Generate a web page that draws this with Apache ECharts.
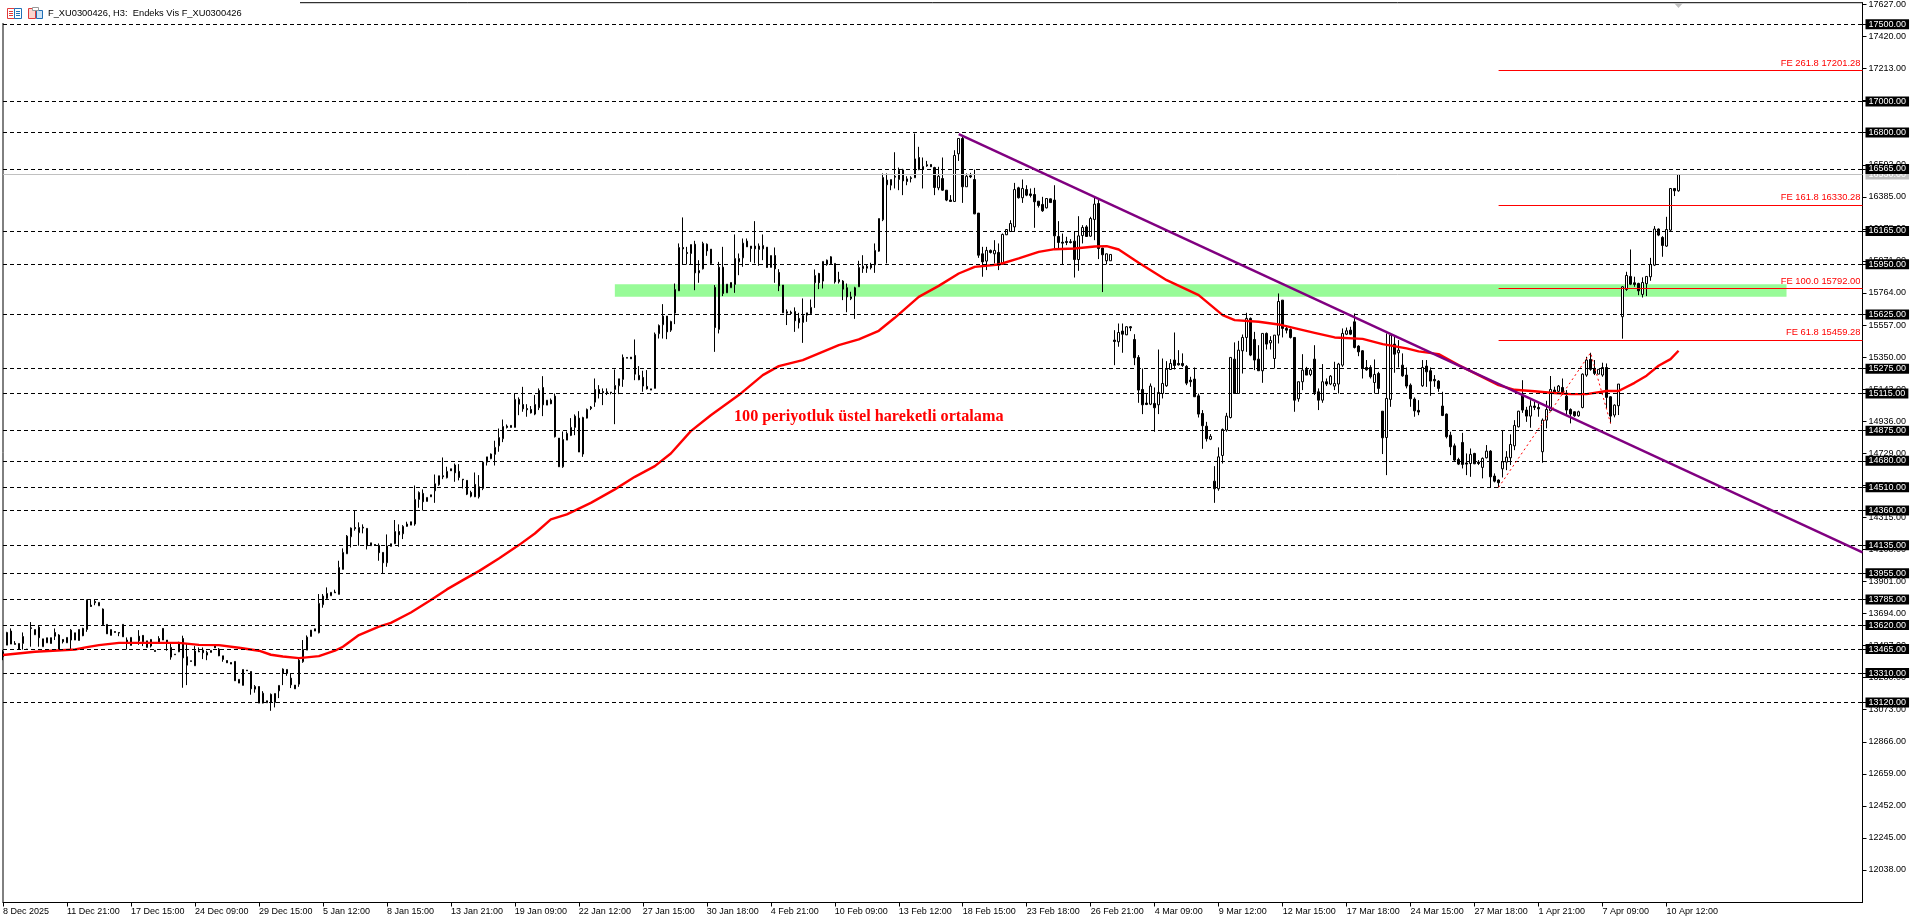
<!DOCTYPE html>
<html>
<head>
<meta charset="utf-8">
<title>F_XU0300426 H3</title>
<style>html,body{margin:0;padding:0;background:#fff}#c{width:1920px;height:923px}</style>
<script src="https://cdn.jsdelivr.net/npm/echarts@6/dist/echarts.min.js"></script>
</head>
<body>
<div id="c"></div>
<script>
// Date labels, one every 16 bars
const tickLabels = ["8 Dec 2025","11 Dec 21:00","17 Dec 15:00","24 Dec 09:00","29 Dec 15:00","5 Jan 12:00","8 Jan 15:00","13 Jan 21:00","19 Jan 09:00","22 Jan 12:00","27 Jan 15:00","30 Jan 18:00","4 Feb 21:00","10 Feb 09:00","13 Feb 12:00","18 Feb 15:00","23 Feb 18:00","26 Feb 21:00","4 Mar 09:00","9 Mar 12:00","12 Mar 15:00","17 Mar 18:00","24 Mar 15:00","27 Mar 18:00","1 Apr 21:00","7 Apr 09:00","10 Apr 12:00"];
const priceTicks = [17627,17420,17213,17006,16799,16592,16385,16178,15971,15764,15557,15350,15143,14936,14729,14522,14315,14108,13901,13694,13487,13280,13073,12866,12659,12452,12245,12038];
const levels = [17500,17000,16800,16565,16165,15950,15625,15275,15115,14875,14680,14510,14360,14135,13955,13785,13620,13465,13310,13120];
const fibo = [["FE 261.8 17201.28",17201.28],["FE 161.8 16330.28",16330.28],["FE 100.0 15792.00",15792],["FE 61.8 15459.28",15459.28]];
const lastPrice = 16530;
// Each candle is [open, close, low, high]
const candlesDec = [
[13447,13415,13393,13458],[13490,13572,13490,13576],[13581,13497,13497,13598],[13501,13495,13495,13516],[13464,13501,13462,13501],[13501,13546,13462,13572],[13462,13464,13460,13466],[13602,13598,13480,13639],[13557,13591,13557,13591],[13606,13538,13480,13615],
[13480,13531,13480,13531],[13505,13538,13505,13538],[13538,13501,13501,13538],[13572,13548,13523,13598],[13555,13462,13458,13561],[13527,13512,13501,13527],[13505,13540,13505,13540],[13587,13523,13462,13594],[13523,13570,13523,13570],[13520,13591,13520,13591],
[13598,13551,13548,13602],[13591,13781,13576,13785],[13748,13740,13738,13781],[13772,13764,13748,13787],[13744,13766,13744,13766],[13723,13622,13619,13727],[13624,13563,13563,13624],[13553,13591,13553,13591],[13578,13572,13572,13578],[13572,13568,13548,13572],
[13624,13544,13544,13624],[13523,13507,13462,13540],[13488,13540,13488,13540],[13505,13507,13503,13510],[13548,13518,13492,13587],[13553,13512,13484,13555],[13475,13518,13475,13518],[13484,13527,13475,13529],[13456,13449,13449,13456],[13533,13507,13501,13548],
[13598,13523,13523,13598],[13523,13501,13454,13523],[13475,13413,13396,13501],[13432,13428,13428,13432],[13447,13501,13445,13512],[13533,13408,13215,13551],[13415,13361,13232,13501],[13389,13385,13385,13389],[13357,13452,13357,13484],[13452,13447,13445,13475],
[13458,13441,13400,13475],[13426,13443,13393,13454],[13443,13456,13443,13456],[13484,13473,13473,13484],[13464,13421,13419,13471],[13421,13398,13383,13421],[13391,13376,13376,13391],[13378,13368,13368,13378],[13385,13260,13260,13385],[13269,13245,13245,13269],
[13230,13333,13230,13333],[13329,13325,13325,13329],[13320,13208,13170,13320],[13206,13223,13183,13232],[13223,13116,13116,13223],[13116,13180,13114,13193],[13118,13131,13118,13131],[13172,13120,13066,13178],[13120,13178,13088,13178],[13195,13230,13148,13230],
[13335,13307,13232,13340],[13307,13333,13292,13333]];
const candlesJan = [
[13277,13234,13213,13307],[13232,13208,13208,13232],[13238,13393,13221,13402],[13383,13462,13376,13523],[13458,13542,13458,13553],[13546,13587,13546,13587],[13581,13596,13581,13596],[13570,13760,13566,13820],
[13751,13807,13732,13820],[13792,13824,13785,13863],[13809,13831,13809,13831],[13833,13828,13828,13848],[13818,13992,13818,14035],[13979,14089,13979,14115],[14080,14194,14080,14201],[14190,14246,14121,14250],[14250,14242,14229,14358],[14216,14250,14132,14283],
[14252,14246,14212,14270],[14244,14132,14108,14244],[14132,14151,14132,14151],[14140,14136,14136,14140],[14134,14087,14035,14147],[14089,14022,13953,14089],[14022,14130,13996,14205],[14128,14145,14128,14145],[14145,14224,14143,14298],[14224,14203,14125,14270],
[14209,14257,14175,14265],[14257,14272,14255,14287],[14265,14287,14265,14287],[14272,14431,14261,14521],[14431,14476,14377,14483],[14470,14416,14360,14496],[14418,14444,14418,14444],[14448,14461,14448,14461],[14487,14532,14409,14592],[14526,14584,14519,14584],
[14584,14577,14562,14702],[14571,14612,14567,14642],[14629,14616,14616,14629],[14653,14603,14545,14663],[14612,14573,14554,14659],[14562,14558,14502,14562],[14554,14465,14459,14554],[14476,14452,14444,14487],[14528,14448,14446,14605],[14448,14513,14437,14588],
[14502,14672,14491,14674],[14672,14706,14650,14706],[14694,14724,14691,14728],[14722,14767,14650,14810],[14777,14831,14739,14889],[14823,14902,14801,14947],[14904,14896,14889,14915],[14909,14896,14896,14909],[14896,15077,14896,15115],[15077,15046,14975,15090],
[15044,15016,14997,15158],[15018,15010,14965,15046],[15012,14990,14986,15034],[14982,15044,14975,15105],[15023,15135,15008,15148],[15154,15042,14969,15227],[15040,15072,15040,15072],[15072,15049,15046,15083],[15098,14836,14831,15115],[14827,14642,14642,14827],
[14642,14818,14635,14870],[14814,14857,14814,14870],[14844,14896,14840,14956],[14896,14969,14846,14980],[14956,14737,14737,15001],[14724,14960,14706,14965],[14956,15012,14954,15018],[15027,15018,15008,15034],[15059,15141,15029,15212],[15141,15115,15083,15169],
[15128,15120,15040,15148],[15126,15120,15105,15148],[15124,15120,15110,15124],[15141,15167,14917,15270],[15165,15210,15111,15210],[15206,15348,15158,15367],[15348,15343,15343,15348],[15350,15339,15339,15350],[15361,15240,15201,15464],[15232,15204,15201,15292],
[15219,15163,15126,15262],[15161,15145,15141,15266],[15145,15137,15137,15145],[15148,15498,15148,15509],[15501,15554,15470,15561],[15559,15615,15470,15692],[15615,15513,15466,15615],[15524,15580,15513,15585],[15634,15787,15563,15825],[15778,16058,15778,16084],
[16058,16049,15948,16252],[16026,16019,15948,16062],[16019,16077,15948,16077],[16079,15894,15782,16101],[15894,15909,15830,15976],[15920,16084,15916,16095],[16079,16036,16004,16084],[16047,15955,15950,16047],[15800,15541,15384,15815],[15529,15931,15503,15965],
[15931,15761,15744,16062],[15765,15821,15765,15821],[15798,15832,15798,15832],[15819,15987,15765,16142]];
const candlesFeb = [
[15965,15987,15879,16019],[15991,16086,15933,16116],[16099,16062,16062,16116],[16067,16051,15965,16067],[16067,16049,15955,16228],[16045,16067,15940,16084],[16049,16071,15976,16142],[16060,15929,15927,16060],[15929,16006,15929,16006],[16006,15920,15830,16058],
[15897,15810,15776,15918],[15815,15636,15636,15815],[15643,15634,15557,15658],[15640,15632,15625,15650],[15645,15585,15513,15671],[15600,15572,15535,15636],[15574,15619,15442,15729],[15621,15636,15578,15636],[15630,15671,15628,15722],[15830,15877,15668,15916],
[15890,15830,15789,15894],[15841,15968,15793,15968],[15948,15976,15940,15980],[15952,15998,15950,16002],[15955,15836,15825,15955],[15836,15851,15825,15901],[15841,15789,15718,15847],[15798,15739,15640,15825],[15727,15739,15718,15772],[15746,15798,15597,15804],
[15804,15929,15804,15972],[15922,15937,15894,16008],[15924,15937,15894,15950],[15944,15927,15916,15959],[15946,16039,15894,16084],[16034,16245,16030,16245],[16237,16510,16228,16536],[16493,16463,15955,16536],[16460,16497,16428,16497],[16518,16512,16439,16673],
[16497,16557,16428,16574],[16559,16488,16396,16566],[16484,16501,16460,16518],[16508,16503,16478,16518],[16508,16630,16508,16794],[16639,16561,16557,16708],[16564,16581,16439,16639],[16592,16585,16579,16617],[16594,16579,16579,16594],[16574,16445,16396,16579],
[16443,16518,16428,16579],[16503,16428,16424,16639],[16428,16364,16357,16428],[16364,16355,16353,16396],[16355,16652,16355,16686],[16663,16762,16617,16762],[16762,16450,16346,16783],[16450,16518,16450,16536],[16521,16514,16506,16540],[16497,16275,16273,16561],
[16280,16008,15991,16280],[16017,15965,15869,16062],[15970,16039,15912,16062],[16039,16026,16019,16045],[16017,16039,15955,16105],[16026,15944,15912,16084],[15948,16142,15948,16148],[16140,16174,16138,16174],[16161,16213,16159,16234],[16191,16432,16159,16475],
[16443,16379,16374,16450],[16379,16439,16346,16497],[16432,16396,16389,16460],[16404,16394,16381,16439],[16400,16353,16185,16443],[16357,16329,16316,16357],[16336,16295,16288,16385],[16314,16374,16310,16374],[16372,16348,16348,16374],[16364,16133,16045,16460],
[16129,16090,16051,16228],[16092,16086,15950,16148],[16097,16090,16073,16127],[16095,16090,16084,16112],[16099,15980,15864,16159],[15980,16133,15907,16260],[16135,16187,16084,16202],[16191,16129,16127,16202],[16131,16245,16127,16256],[16239,16338,16105,16381],
[16342,16051,15983,16368],[16054,16011,15770,16056],[15972,16017,15948,16019],[15972,16013,15972,16013],[15460,15451,15298,15524],[15449,15509,15417,15567]];
const candlesMar = [
[15518,15498,15378,15567],[15494,15546,15492,15550],[15546,15539,15518,15550],[15464,15346,15298,15498],[15348,15137,15055,15363],[15141,15042,14982,15277],[15053,15044,15040,15111],[15046,15163,15040,15180],[15051,15023,14868,15154],[15042,15122,14982,15399],
[15115,15180,15083,15341],[15165,15272,15158,15324],[15270,15309,15270,15337],[15331,15296,15270,15509],[15309,15300,15296,15395],[15309,15296,15287,15374],[15290,15182,15169,15298],[15201,15191,15158,15223],[15208,15094,15094,15283],[15100,14982,14960,15115],
[14986,14907,14758,15008],[14904,14823,14805,14932],[14820,14838,14814,14853],[14549,14500,14409,14646],[14500,14706,14487,14767],[14715,14883,14663,14889],[14879,14969,14868,14990],[14960,15348,14954,15348],[15337,15115,15115,15445],[15115,15395,15115,15455],
[15391,15477,15244,15496],[15477,15600,15384,15636],[15600,15363,15356,15606],[15464,15331,15266,15513],[15337,15262,15262,15427],[15262,15503,15184,15503],[15503,15434,15399,15509],[15442,15457,15399,15485],[15341,15492,15277,15492],[15492,15709,15438,15761],
[15718,15535,15477,15718],[15535,15524,15503,15556],[15529,15477,15470,15535],[15477,15072,14997,15477],[15081,15191,15062,15191],[15191,15266,15137,15369],[15270,15234,15234,15287],[15238,15266,15227,15279],[15337,15122,15105,15427],[15126,15072,15008,15148],
[15072,15191,15055,15305],[15191,15176,15163,15212],[15176,15227,15169,15234],[15163,15180,15137,15320],[15176,15305,15115,15313],[15298,15503,15287,15535],[15498,15520,15492,15541],[15524,15498,15492,15546],[15578,15412,15406,15632],[15421,15384,15356,15427],
[15391,15277,15212,15395],[15283,15268,15262,15331],[15283,15223,15212,15298],[15186,15238,15115,15335],[15244,15148,15115,15255],[15001,14829,14724,15001],[14831,15083,14588,15503],[15077,15492,15029,15492],[15434,15369,15249,15492],[15378,15395,15283,15460],
[15298,15229,15223,15374],[15234,15163,15148,15283],[15169,15081,15029,15180],[15079,15003,14965,15090],[15006,14995,14975,15072],[15165,15283,15158,15331],[15292,15255,15158,15331],[15262,15195,15100,15283],[15206,15197,15158,15234],[15195,15148,15126,15201],
[15034,14973,14969,15126],[14982,14836,14825,14986],[14846,14771,14717,14868],[14777,14685,14674,14792],[14689,14659,14653,14700],[14799,14657,14631,14861],[14666,14659,14588,14728],[14663,14722,14577,14760],[14728,14661,14659,14732],[14672,14663,14653,14685],
[14638,14696,14567,14702],[14700,14743,14696,14782],[14743,14577,14508,14749],[14582,14549,14541,14599],[14556,14539,14508,14560],[14629,14674,14573,14879]];
const candlesApr = [
[14672,14704,14620,14743],[14700,14786,14653,14851],[14777,14909,14749,14943],[14900,15001,14896,15003],[15105,15008,14990,15201],[15008,14969,14932,15029],[14969,15034,14894,15072],[15034,15025,15008,15062],[15025,15016,14965,15051],
[14739,14943,14668,14954],[14943,15012,14890,15068],[15004,15141,15004,15228],[15137,15116,15112,15159],[15129,15163,15125,15170],[15154,15116,15105,15212],[15098,15008,14976,15137],[15012,14982,14922,15019],[14997,14971,14965,15000],[14971,14997,14965,15004],
[15025,15240,15019,15245],[15234,15331,15223,15352],[15335,15271,15262,15378],[15277,15245,15234,15331],[15240,15271,15240,15271],[15234,15283,15223,15314],[15283,15090,15019,15309],[15094,14969,14922,15098],[14976,15040,14961,15045],[15036,15176,14976,15176],
[15611,15804,15469,15809],[15787,15877,15778,15901],[15871,15821,15815,16045],[15830,15819,15804,15869],[15826,15778,15750,15830],[15755,15832,15735,15865],[15824,15871,15744,15871],[15869,15948,15843,15991],[15944,16177,15938,16196],[16177,16138,16131,16181],
[16123,16071,15998,16131],[16067,16174,16062,16256],[16170,16439,16164,16439],[16439,16424,16390,16439],[16424,16529,16418,16529]];
// 100-period EMA: [bar number, value]
const emaPoints = [[0,13426],[8,13447],[18,13462],[21,13477],[24,13490],[29,13505],[37,13505],[44,13505],[49,13492],[54,13490],[59,13473],[64,13454],[67,13428],[70,13417],[74,13406],[79,13419],[83,13454],[85,13480],[89,13555],[94,13609],[97,13634],[102,13701],[107,13781],[111,13850],[115,13910],[119,13968],[124,14050],[129,14136],[133,14211],[137,14302],[141,14334],[147,14409],[153,14496],[158,14577],[163,14646],[167,14728],[172,14872],[177,14975],[184,15105],[190,15234],[194,15292],[200,15331],[209,15427],[214,15464],[219,15520],[223,15604],[229,15739],[234,15810],[239,15890],[243,15933],[249,15948],[254,15987],[259,16030],[263,16047],[268,16051],[273,16064],[276,16067],[279,16045],[284,15959],[291,15847],[299,15750],[305,15621],[308,15589],[314,15578],[319,15561],[328,15507],[333,15477],[340,15468],[345,15434],[351,15406],[354,15387],[359,15369],[364,15298],[369,15234],[374,15169],[378,15139],[383,15130],[387,15120],[392,15111],[396,15111],[401,15131],[404,15131],[408,15184],[411,15230],[414,15294],[417,15337],[419,15391]];
const trendLine = [[239,16790],[465,14089]];
const fiboPath = [[374,14509],[397,15378],[402,14922]];
const zone = {fromBar:153, toBar:446, high:15821, low:15739};

const barCount = 466;
const categories = Array.from({length:barCount},(_,i)=> i%16===0 && tickLabels[i/16] ? tickLabels[i/16] : '');
const candles = [].concat(candlesDec,candlesJan,candlesFeb,candlesMar,candlesApr);
const FONT = '"Liberation Sans",Arial,sans-serif';
const hasLabel = (i)=> i%16===0 && !!tickLabels[i/16];
const emptyLine = {type:'line',data:[],silent:true,showSymbol:false,animation:false};
const lineBase = {silent:true,symbol:'none',animation:false};

const chart = echarts.init(document.getElementById('c'),null,{renderer:'canvas'});
chart.setOption({
  animation:false,
  backgroundColor:'#ffffff',
  grid:{left:2.5,right:57.5,top:2.5,bottom:20.5,show:true,borderColor:'#000',borderWidth:1,backgroundColor:'transparent'},
  tooltip:{show:false},
  xAxis:{type:'category',boundaryGap:false,data:categories,
    axisLine:{show:true,lineStyle:{color:'#000'}},
    axisTick:{show:true,interval:(i)=>hasLabel(i),length:4,lineStyle:{color:'#000'}},
    axisLabel:{interval:(i)=>hasLabel(i),align:'left',margin:5,fontSize:9,fontFamily:FONT,color:'#000',hideOverlap:false},
    splitLine:{show:false}},
  yAxis:{type:'value',position:'right',min:11828.2,max:17638.6,scale:true,
    axisLine:{show:true,lineStyle:{color:'#000'}},
    axisTick:{show:true,length:4,lineStyle:{color:'#000'},customValues:priceTicks.concat(levels)},
    axisLabel:{margin:6,fontSize:9,fontFamily:FONT,color:'#000',customValues:priceTicks,formatter:(v)=>v.toFixed(2)},
    splitLine:{show:false}},
  series:[
    Object.assign({},emptyLine,{z:1,name:'zone',markArea:{silent:true,animation:false,itemStyle:{color:'#98FB98',opacity:1},
      data:[[{xAxis:zone.fromBar,yAxis:zone.high},{xAxis:zone.toBar,yAxis:zone.low}]]}}),
    Object.assign({},emptyLine,{z:2,name:'levels',markLine:Object.assign({},lineBase,{
      lineStyle:{color:'#000',type:[4,3],width:1},label:{show:false},
      data:levels.map(v=>({yAxis:v}))})}),
    Object.assign({},emptyLine,{z:2,name:'last',markLine:Object.assign({},lineBase,{
      lineStyle:{color:'#C0C0C0',type:'solid',width:1},label:{show:false},
      data:[{yAxis:lastPrice}]})}),
    {type:'candlestick',name:'F_XU0300426',z:3,data:candles,barWidth:2,clip:false,silent:true,animation:false,
      itemStyle:{color:'#ffffff',color0:'#000000',borderColor:'#000000',borderColor0:'#000000',borderWidth:1}},
    {type:'line',name:'EMA100',z:4,data:emaPoints,showSymbol:false,silent:true,animation:false,smooth:false,
      lineStyle:{color:'#ff0000',width:2.4}},
    {type:'line',name:'trend',z:5,data:trendLine,showSymbol:false,silent:true,animation:false,
      lineStyle:{color:'#800080',width:2.4}},
    {type:'line',name:'fiboPath',z:5,data:fiboPath,showSymbol:false,silent:true,animation:false,
      lineStyle:{color:'#ff0000',width:1,type:[2,3]}},
    Object.assign({},emptyLine,{z:5,name:'fibo',markLine:Object.assign({},lineBase,{
      lineStyle:{color:'#ff0000',type:'solid',width:1},
      label:{show:true,position:'insideEndTop',distance:[2,3],color:'#ff0000',fontSize:9.4,fontFamily:FONT,formatter:(p)=>p.name},
      data:fibo.map(f=>[{name:f[0],xAxis:374,yAxis:f[1]},{xAxis:465,yAxis:f[1]}])})}),
    Object.assign({},emptyLine,{z:6,name:'lastLabel',markLine:Object.assign({},lineBase,{
      lineStyle:{color:'transparent',width:0},
      label:{show:true,position:'end',distance:3,color:'#fff',backgroundColor:'#C0C0C0',padding:[0,3],lineHeight:10,fontSize:9,fontFamily:FONT,formatter:()=>lastPrice.toFixed(2)},
      data:[{yAxis:lastPrice}]})}),
    Object.assign({},emptyLine,{z:7,name:'levelLabels',markLine:Object.assign({},lineBase,{
      lineStyle:{color:'transparent',width:0},
      label:{show:true,position:'end',distance:3,color:'#fff',backgroundColor:'#000',padding:[0,3],lineHeight:10,fontSize:9,fontFamily:FONT,formatter:(p)=>Number(p.value).toFixed(2)},
      data:levels.map(v=>({yAxis:v}))})})
  ],
  graphic:[
    {type:'rect',z:50,shape:{x:0,y:0,width:300,height:23},style:{fill:'#fff'}},
    {type:'rect',z:51,shape:{x:7.5,y:8.5,width:7,height:10},style:{fill:'#fff',stroke:'#e03a3a',lineWidth:1}},
    {type:'rect',z:51,shape:{x:14.5,y:8.5,width:7,height:10},style:{fill:'#fff',stroke:'#1f6fb5',lineWidth:1}},
    {type:'polyline',z:52,shape:{points:[[9,11.5],[13,11.5]]},style:{stroke:'#e03a3a',lineWidth:1}},
    {type:'polyline',z:52,shape:{points:[[9,13.5],[13,13.5]]},style:{stroke:'#e03a3a',lineWidth:1}},
    {type:'polyline',z:52,shape:{points:[[9,15.5],[13,15.5]]},style:{stroke:'#e03a3a',lineWidth:1}},
    {type:'polyline',z:52,shape:{points:[[16,11.5],[20,11.5]]},style:{stroke:'#1f6fb5',lineWidth:1}},
    {type:'polyline',z:52,shape:{points:[[16,13.5],[20,13.5]]},style:{stroke:'#1f6fb5',lineWidth:1}},
    {type:'polyline',z:52,shape:{points:[[16,15.5],[20,15.5]]},style:{stroke:'#1f6fb5',lineWidth:1}},
    {type:'rect',z:51,shape:{x:28.5,y:8.5,width:7,height:10},style:{fill:'#fbd5cf',stroke:'#e03a3a',lineWidth:1}},
    {type:'rect',z:51,shape:{x:36.5,y:10.5,width:6,height:8},style:{fill:'#cfe3f5',stroke:'#1f6fb5',lineWidth:1}},
    {type:'rect',z:52,shape:{x:32.5,y:7.5,width:6,height:3},style:{fill:'#fff',stroke:'#999',lineWidth:1}},
    {type:'text',z:53,x:48,y:13,style:{text:'F_XU0300426, H3:  Endeks Vis F_XU0300426',font:'9.3px '+FONT,fill:'#000',textVerticalAlign:'middle'}},
    {type:'polygon',z:20,shape:{points:[[1674,3],[1683,3],[1678.5,8]]},style:{fill:'#C0C0C0'}},
    {type:'text',z:20,x:734,y:417,style:{text:'100 periyotluk üstel hareketli ortalama',font:'bold 16.2px "Liberation Serif",serif',fill:'#ff0000',textVerticalAlign:'middle'}}
  ]
});
</script>
</body>
</html>
